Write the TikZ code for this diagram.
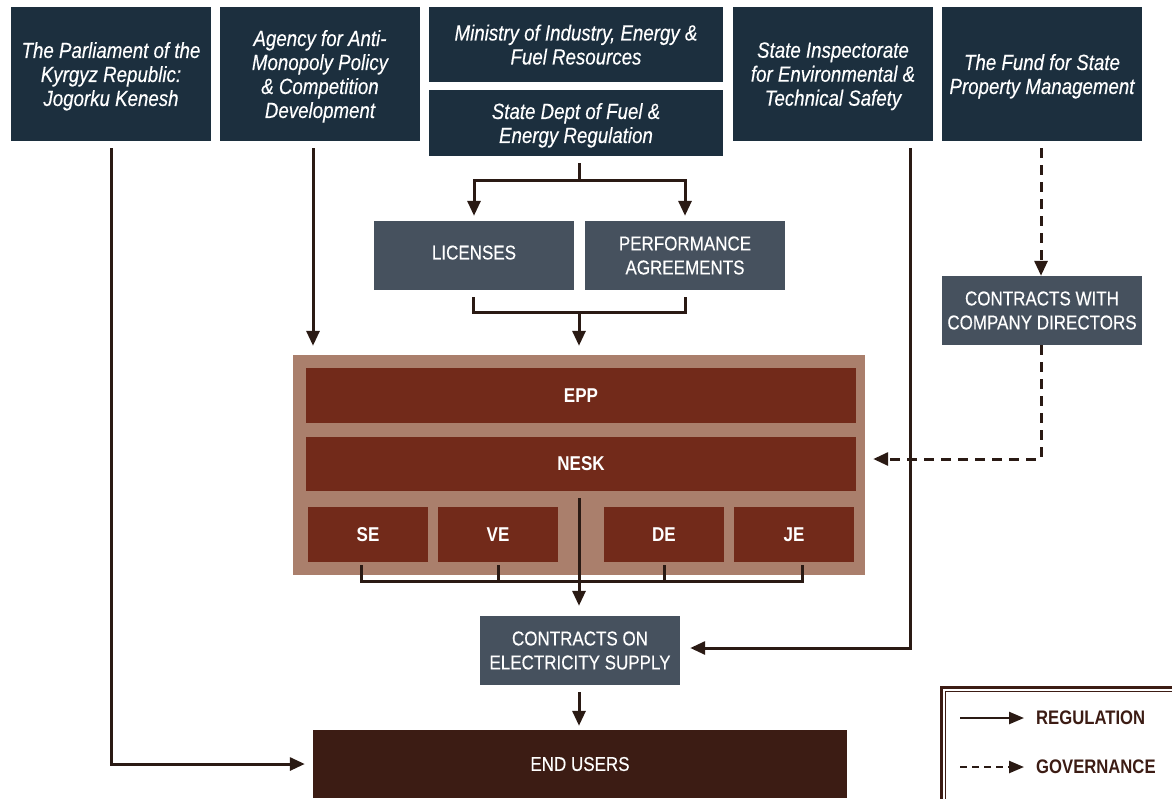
\documentclass[tikz,border=0pt]{standalone}
\usepackage{fontspec}
\setmainfont[FakeStretch=0.85, UprightFeatures={FakeBold=0.3}, ItalicFeatures={FakeBold=0.3}]{Liberation Sans}
\usetikzlibrary{arrows.meta,calc}
\definecolor{navy}{HTML}{1C2F3E}
\definecolor{slate}{HTML}{46515E}
\definecolor{rust}{HTML}{722A1A}
\definecolor{framec}{HTML}{AA7F6C}
\definecolor{enduser}{HTML}{3C1C14}
\definecolor{ink}{HTML}{2A1A14}
\begin{document}
\begin{tikzpicture}[x=1pt,y=-1pt,
  box/.style={inner sep=0pt, align=center, text=white},
  topbox/.style={box, fill=navy, text depth=0pt, font=\fontsize{22}{24}\selectfont\itshape},
  greybox/.style={box, fill=slate, font=\fontsize{20}{24}\selectfont, minimum width=200pt, minimum height=69pt},
  redbox/.style={box, fill=rust, font=\fontsize{20}{22}\selectfont\bfseries},
  subbox/.style={redbox, minimum width=120pt, minimum height=55pt},
  line/.style={draw=ink, line width=3pt},
  reg/.style={line, -{Triangle[width=13pt,length=15pt]}},
  gov/.style={reg, dash pattern=on 10pt off 7pt},
  legtext/.style={inner sep=0pt, anchor=west, text=enduser, font=\fontsize{19.6}{22}\selectfont\bfseries}]
\useasboundingbox (0,0) rectangle (1172,798);
\clip (0,0) rectangle (1172,798);

% top row
\node[topbox, minimum width=200pt, minimum height=134pt] (parl) at (111,74) {The Parliament of the\\Kyrgyz Republic:\\Jogorku Kenesh};
\node[topbox, minimum width=200pt, minimum height=134pt] (agency) at (320,74) {Agency for Anti-\\Monopoly Policy\\\& Competition\\Development};
\node[topbox, minimum width=294pt, minimum height=75pt] (ministry) at (576,44.5) {Ministry of Industry, Energy \&\\Fuel Resources};
\node[topbox, minimum width=294pt, minimum height=66pt] (dept) at (576,123) {State Dept of Fuel \&\\Energy Regulation};
\node[topbox, minimum width=200pt, minimum height=134pt] (insp) at (833,74) {State Inspectorate\\for Environmental \&\\Technical Safety};
\node[topbox, minimum width=200pt, minimum height=134pt] (fund) at (1042,74) {The Fund for State\\Property Management};

% grey boxes
\node[greybox, text depth=6pt] (lic) at (474,255.5) {LICENSES};
\node[greybox] (perf) at (685,255.5) {PERFORMANCE\\AGREEMENTS};
\node[greybox] (cwd) at (1042,310.5) {CONTRACTS WITH\\COMPANY DIRECTORS};

% company frame
\node[fill=framec, inner sep=0pt, minimum width=572pt, minimum height=220pt] (frame) at (579,465) {};
\node[redbox, minimum width=550pt, minimum height=55pt] (epp) at (581,395.5) {EPP};
\node[redbox, minimum width=550pt, minimum height=54pt] (nesk) at (581,464) {NESK};
\node[subbox] (se) at (368,534.5) {SE};
\node[subbox] (ve) at (498,534.5) {VE};
\node[subbox] (de) at (664,534.5) {DE};
\node[subbox] (je) at (794,534.5) {JE};

\node[greybox] (ces) at (580,650.5) {CONTRACTS ON\\ELECTRICITY SUPPLY};
\node[box, fill=enduser, minimum width=534pt, minimum height=68pt, font=\fontsize{20}{22}\selectfont] (end) at (580,764) {END USERS};

% connectors
\draw[reg, shorten >=8pt] ([yshift=-7pt]parl.south) |- (end.west);
\coordinate (ag) at ($(agency.south)+(-7,7)$);
\draw[reg, shorten >=9pt] (ag) -- (ag |- frame.north);
\coordinate (dp) at ($(dept.south)+(3,7)$);
\coordinate (split) at ($(dp)+(0,17)$);
\draw[line] (dp) -- (split);
\draw[reg, shorten >=5pt] (split) -| (lic.north);
\draw[reg, shorten >=5pt] (split) -| (perf.north);
\coordinate (join) at ($(lic.south -| frame.north)+(0,22)$);
\draw[line] ([xshift=-1pt,yshift=-7pt]lic.south) |- (join) -| ([yshift=-7pt]perf.south);
\draw[reg, shorten >=9pt] (join) -- (frame.north);

\coordinate (sjoin) at ($(se.south)+(-7,19)$);
\draw[line] ([xshift=-7pt,yshift=-3pt]se.south) -- (sjoin) -- ($(je.south)+(8,19)$) -- ([xshift=8pt,yshift=-3pt]je.south);
\draw[line] ([yshift=-3pt]ve.south) -- ($(ve.south)+(0,19)$);
\draw[line] ([yshift=-3pt]de.south) -- ($(de.south)+(0,19)$);
\coordinate (nk) at ($(nesk.south)+(-2,7)$);
\draw[reg, shorten >=10pt] (nk) -- (nk |- ces.north);

\draw[reg, shorten >=10pt] ([xshift=77pt,yshift=-7pt]insp.south) |- ($(ces.east)+(0,-2.5)$);
\draw[gov] ([xshift=-1pt,yshift=-7pt]fund.south) -- ([xshift=-1pt]cwd.north);
\draw[gov, shorten >=17pt] ([xshift=-1pt]cwd.south) |- ($(nesk.east)+(0,-5)$);
\coordinate (cs) at ($(ces.south)+(-1,7)$);
\draw[reg, shorten >=4pt] (cs) -- (cs |- end.north);

% legend
\draw[draw=enduser, line width=2.6pt] (941.3,687.3) rectangle (1190,820);
\draw[draw=enduser, line width=0.9pt] (945.5,691.5) rectangle (1190,820);
\node[legtext] (lreg) at (1036,718) {REGULATION};
\node[legtext] (lgov) at (1036,767) {GOVERNANCE};
\draw[reg, line width=2.4pt, -{Triangle[width=12pt,length=15pt]}] ([xshift=-76pt]lreg.west) -- ([xshift=-12pt]lreg.west);
\draw[gov, line width=2.4pt, dash pattern=on 7pt off 5pt, -{Triangle[width=12pt,length=15pt]}] ([xshift=-76pt]lgov.west) -- ([xshift=-12pt]lgov.west);
\end{tikzpicture}
\end{document}
